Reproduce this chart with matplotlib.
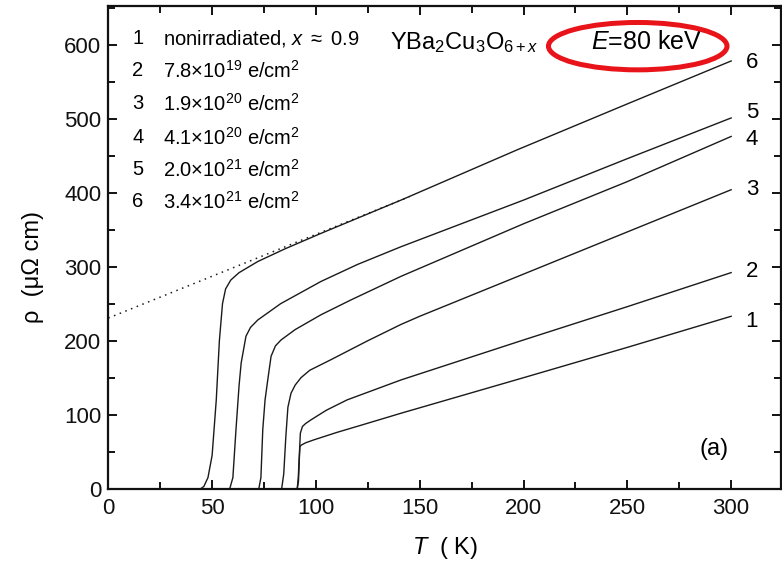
import matplotlib
matplotlib.use("Agg")
import matplotlib.pyplot as plt
from matplotlib.patches import Ellipse
from matplotlib.ticker import MultipleLocator

plt.rcParams['font.family'] = ['Liberation Sans', 'DejaVu Sans']
plt.rcParams['mathtext.fontset'] = 'custom'
plt.rcParams['mathtext.rm'] = 'Liberation Sans'
plt.rcParams['mathtext.it'] = 'Liberation Sans:italic'
plt.rcParams['mathtext.bf'] = 'Liberation Sans:bold'

# ---- data ----
T1 = [91.0, 91.6, 92.0, 92.3, 93, 95, 99, 110, 122, 141, 200, 250, 300]
R1 = [0, 10, 40, 57, 59, 62, 66, 76, 86, 102, 150, 191, 233]

T2 = [91.0, 91.5, 92.0, 92.5, 93.5, 95, 97.6, 105, 115, 141, 200, 250, 300]
R2 = [0, 15, 45, 75, 84, 88, 93, 106, 120, 147, 201, 246, 292]

T3 = [83.5, 84.5, 85.5, 86.5, 88, 90, 92.8, 97, 107, 125, 141, 150, 200, 250, 300]
R3 = [0, 20, 70, 110, 129, 140, 150, 160, 174, 200, 222, 233, 290, 347, 404]

T4 = [72.5, 73.5, 74.4, 75.5, 76.8, 78.4, 80.5, 83.2, 90, 102.4, 116.8, 141, 200, 250, 300]
R4 = [0, 15, 80, 120, 147, 179, 193, 201, 215, 235, 255, 287, 358, 415, 476]

T5 = [58.5, 60, 61.5, 63, 64, 66.3, 68.5, 72, 83, 102.4, 120, 141, 200, 250, 300]
R5 = [0, 15, 80, 140, 170, 206, 218, 228, 250, 280, 303, 327, 390, 446, 501]

T6 = [44.5, 46, 48, 50, 52, 53.5, 55, 56.5, 59, 63, 72, 85, 102.4, 141, 197, 250, 300]
R6 = [0, 3, 15, 45, 120, 200, 250, 270, 282, 292, 307, 324, 345, 390, 458, 520, 578]

# dotted extrapolation of curve 6
T_dot = [0, 145]
R_dot = [230.6, 394.5]

curve_labels = ['1', '2', '3', '4', '5', '6']
label_y = [226, 294, 404, 472, 508, 576]

legend_nums = ['1', '2', '3', '4', '5', '6']
legend_texts = [r'nonirradiated, $x$ $\approx$ 0.9',
                r'7.8$\times$10$^{19}$ e/cm$^2$',
                r'1.9$\times$10$^{20}$ e/cm$^2$',
                r'4.1$\times$10$^{20}$ e/cm$^2$',
                r'2.0$\times$10$^{21}$ e/cm$^2$',
                r'3.4$\times$10$^{21}$ e/cm$^2$']
legend_y = [608, 565, 520, 474, 431, 388]

x_ticks = [0, 50, 100, 150, 200, 250, 300]
y_ticks = [0, 100, 200, 300, 400, 500, 600]

# ---- figure ----
fig = plt.figure(figsize=(7.82, 5.64), dpi=100)
ax = fig.add_axes([0.1385, 0.1335, 0.8602, 0.8555])

lc = '#1a1a1a'
for T, R in [(T1, R1), (T2, R2), (T3, R3), (T4, R4), (T5, R5), (T6, R6)]:
    ax.plot(T, R, color=lc, lw=1.0)
ax.plot(T_dot, R_dot, color=lc, lw=1.1, linestyle=(0, (1, 3)))

ax.set_xlim(0, 324)
ax.set_ylim(0, 652)
ax.set_xticks(x_ticks)
ax.set_yticks(y_ticks)
ax.xaxis.set_minor_locator(MultipleLocator(25))
ax.yaxis.set_minor_locator(MultipleLocator(50))
ax.tick_params(which='both', direction='in', top=True, right=True, width=1.4, labelsize=16, colors='#111111')
ax.tick_params(which='major', length=6.5)
ax.tick_params(which='minor', length=5)
ax.tick_params(axis='x', which='major', pad=7)
ax.tick_params(axis='y', which='major', pad=5)
for s in ax.spines.values():
    s.set_linewidth(1.6)
    s.set_color('#111111')

ax.set_xlabel(r'$T$  ( K)', fontsize=17)
ax.set_ylabel('ρ  (μΩ cm)', fontsize=17)
ax.xaxis.set_label_coords(0.5, -0.095)
ax.yaxis.set_label_coords(-0.095, 0.46)

for lab, y in zip(curve_labels, label_y):
    ax.text(310, y, lab, fontsize=16, ha='center', va='center')

for n, t, y in zip(legend_nums, legend_texts, legend_y):
    ax.text(11.5, y, n, fontsize=14.5, ha='left', va='center')
    ax.text(26.5, y, t, fontsize=14.5, ha='left', va='center')

ax.text(135.5, 603, r'YBa$_2$Cu$_3$O$_{6+x}$', fontsize=17, ha='left', va='center')
ax.text(259, 604, r'$E$=80 keV', fontsize=18, ha='center', va='center')
ax.add_patch(Ellipse((255, 598), 86, 64, fill=False, edgecolor='#e8141a', lw=3.6, clip_on=False, zorder=5))

ax.text(292, 53, '(a)', fontsize=17, ha='center', va='center')

fig.savefig('out.png', dpi=100)
